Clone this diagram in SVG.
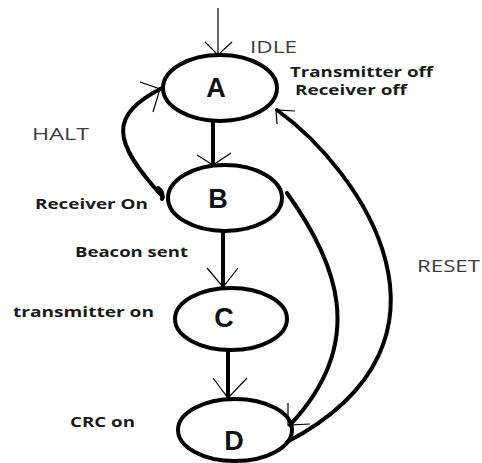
<svg xmlns="http://www.w3.org/2000/svg" width="482" height="463" viewBox="0 0 482 463">
<style>
.node{fill:none;stroke:#000;stroke-width:4}
.letter{font-family:"Liberation Sans",Arial,sans-serif;font-weight:bold;font-size:27px;fill:#111;text-anchor:middle}
.lbl{font-family:"Open Sans","Liberation Sans",sans-serif;font-weight:bold;font-size:14px;fill:#1a1a1a}
.st{font-family:"Open Sans","Liberation Sans",sans-serif;font-size:17px;fill:#3c3c3c}
.edge{fill:none;stroke:#000;stroke-width:4;stroke-linecap:round}
.thin{fill:none;stroke:#000;stroke-width:1.2}
</style>
<rect width="482" height="463" fill="#fff"/>
<g id="connectors">
  <!-- entry arrow -->
  <line class="thin" x1="218" y1="8" x2="218" y2="55" stroke-width="1.5"/>
  <polyline class="thin" points="205,42 218,55 232,42"/>
  <!-- A to B -->
  <line class="edge" x1="213" y1="122" x2="213" y2="165"/>
  <polyline class="thin" points="197,155 213,165 231,153"/>
  <!-- B to C -->
  <line class="edge" x1="223" y1="231" x2="223" y2="288"/>
  <polyline class="thin" points="207,268 223,287 238,268"/>
  <!-- C to D -->
  <line class="edge" x1="228" y1="351" x2="228" y2="399"/>
  <polyline class="thin" points="213,378 228,398 247,378"/>
  <!-- HALT: B to A -->
  <path class="edge" d="M163,197 C110,140 110,115 162,88"/>
  <path class="edge" d="M158,188 Q164,192 162,199" stroke-width="3"/>
  <polyline class="thin" points="140,82 160,89 153,112"/>
  <!-- RESET: B to D -->
  <path class="edge" d="M287,193 C335,260 370,340 290,425"/>
  <polyline class="thin" points="288,403 288,425 310,424"/>
  <!-- RESET: D to A -->
  <path class="edge" d="M287,442 C480,340 360,170 277,110"/>
  <polyline class="thin" points="295,111 276,110 277,124"/>
</g>
<g id="A">
  <ellipse class="node" cx="220" cy="88" rx="57" ry="33"/>
  <text class="letter" x="216" y="97">A</text>
</g>
<g id="B">
  <ellipse class="node" cx="225" cy="198" rx="57" ry="33"/>
  <text class="letter" x="218" y="208">B</text>
</g>
<g id="C">
  <ellipse class="node" cx="231" cy="319" rx="56" ry="31"/>
  <text class="letter" x="224" y="327">C</text>
</g>
<g id="D">
  <ellipse class="node" cx="235" cy="430" rx="57" ry="31"/>
  <text class="letter" x="234" y="450">D</text>
</g>
<g id="labels">
  <text class="st" x="250" y="53" textLength="47" lengthAdjust="spacingAndGlyphs">IDLE</text>
  <text class="lbl" x="290" y="77" textLength="143" lengthAdjust="spacingAndGlyphs">Transmitter off</text>
  <text class="lbl" x="295" y="95" textLength="112" lengthAdjust="spacingAndGlyphs">Receiver off</text>
  <text class="st" x="32" y="140" textLength="57" lengthAdjust="spacingAndGlyphs">HALT</text>
  <text class="lbl" x="35" y="209" textLength="113" lengthAdjust="spacingAndGlyphs">Receiver On</text>
  <text class="lbl" x="75" y="257" textLength="113" lengthAdjust="spacingAndGlyphs">Beacon sent</text>
  <text class="lbl" x="13" y="317" textLength="141" lengthAdjust="spacingAndGlyphs">transmitter on</text>
  <text class="lbl" x="70" y="427" textLength="65" lengthAdjust="spacingAndGlyphs">CRC on</text>
  <text class="st" x="417" y="272" textLength="63" lengthAdjust="spacingAndGlyphs">RESET</text>
</g>
</svg>
